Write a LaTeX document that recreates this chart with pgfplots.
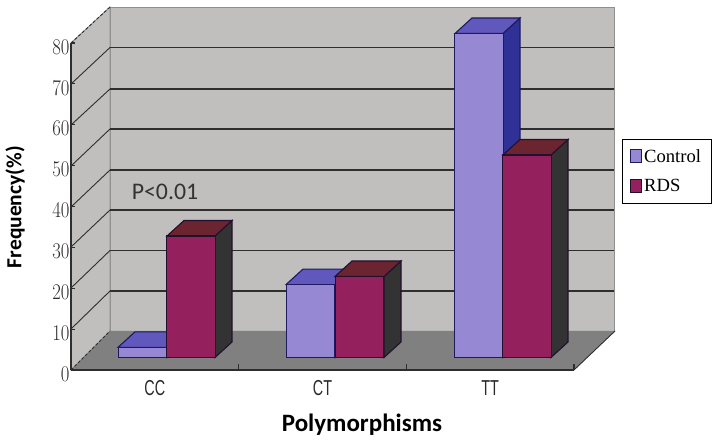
\documentclass[border=0pt]{standalone}
\usepackage{fontspec}
\setmainfont{Carlito}
\newfontfamily\tickfont{Liberation Sans}
\newfontfamily\legfont{Liberation Serif}
\usepackage{pgfplots}
\pgfplotsset{compat=1.18}
\definecolor{wall}{HTML}{C0BFBD}
\definecolor{floorc}{HTML}{808080}
\definecolor{gridc}{HTML}{2E2E2E}
\definecolor{wedge}{HTML}{8E8E8E}
\definecolor{ctrlF}{HTML}{9688D2}
\definecolor{ctrlT}{HTML}{6058BC}
\definecolor{ctrlS}{HTML}{2F3196}
\definecolor{ctrlE}{HTML}{1E1A5E}
\definecolor{rdsF}{HTML}{94205E}
\definecolor{rdsT}{HTML}{6B2530}
\definecolor{rdsS}{HTML}{333333}
\definecolor{rdsE}{HTML}{22102E}
\newcommand{\ticktext}[2][.9]{\scalebox{#1}[1.08]{\fontsize{20}{20}\selectfont\tickfont\textcolor[HTML]{2A2A2A}{#2}}}
\begin{document}
\begin{tikzpicture}
\useasboundingbox (0pt,0pt) rectangle (720pt,441pt);
% canvas: walls, floor and gridlines, in picture pixels
\begin{axis}[at={(0pt,0pt)},anchor=south west,width=720pt,height=441pt,scale only axis,
  xmin=0,xmax=720,ymin=0,ymax=441,axis lines=none,clip=false]
\addplot[fill=wall,draw=wedge,line width=.8pt] coordinates {(110,110)(614,110)(614,434)(110,434)} --cycle;
\addplot[fill=wall,draw=wedge,line width=.8pt] coordinates {(71,71)(110,110)(110,434)(71,398)} --cycle;
\addplot[fill=floorc,draw=none] coordinates {(71,71)(110,110)(615,110)(574,71)} --cycle;
\addplot[gridc,line width=1.3pt] coordinates {(110,150)(614,150)};
\addplot[gridc,line width=1.3pt] coordinates {(110,190.5)(614,190.5)};
\addplot[gridc,line width=1.3pt] coordinates {(110,231)(614,231)};
\addplot[gridc,line width=1.3pt] coordinates {(110,271)(614,271)};
\addplot[gridc,line width=1.3pt] coordinates {(110,312)(614,312)};
\addplot[gridc,line width=1.3pt] coordinates {(110,352)(614,352)};
\addplot[gridc,line width=1.3pt] coordinates {(110,393.5)(614,393.5)};
\addplot[gridc,line width=.9pt] coordinates {(71,112)(110,150)};
\addplot[gridc,line width=.9pt] coordinates {(71,153)(110,190.5)};
\addplot[gridc,line width=.9pt] coordinates {(71,194)(110,231)};
\addplot[gridc,line width=.9pt] coordinates {(71,234)(110,271)};
\addplot[gridc,line width=.9pt] coordinates {(71,275)(110,312)};
\addplot[gridc,line width=.9pt] coordinates {(71,316)(110,352)};
\addplot[gridc,line width=.9pt] coordinates {(71,357)(110,393.5)};
\addplot[gridc,line width=.9pt,densely dashed] coordinates {(71,398)(110,434)};
\addplot[gridc,line width=.9pt,densely dashed] coordinates {(71,71)(110,110)};
\addplot[gridc,line width=.9pt] coordinates {(574,71)(615,110)};
\end{axis}
% frame axis with the ticks and the labels
\begin{axis}[at={(71pt,71pt)},anchor=south west,width=503pt,height=327pt,scale only axis,
  xmin=0,xmax=3,ymin=0,ymax=80,axis lines=left,tick align=inside,
  axis line style={-,draw=gridc,line width=1.3pt},
  xtick={0.5,1.5,2.5},
  xticklabels={\ticktext[.72]{CC},\ticktext[.72]{CT},\ticktext[.72]{TT}},
  major x tick style={draw=none},
  minor xtick={1,2,3},minor tick length=6pt,
  minor x tick style={draw=gridc,line width=1.1pt},
  ytick={0,10,...,80},
  major tick length=4pt,
  y tick style={draw=gridc,line width=1.1pt},
  yticklabel={\ticktext{\pgfmathprintnumber{\tick}}},
  xticklabel style={yshift=-7pt},
  yticklabel style={yshift=-4pt,xshift=2pt},
  xlabel={\fontsize{25}{25}\selectfont\bfseries Polymorphisms},
  ylabel={\fontsize{21.5}{21.5}\selectfont\bfseries Frequency(\%)},
  xlabel style={at={(axis description cs:.5785,-.168)},anchor=center},
  ylabel style={at={(axis description cs:-.111,.498)},anchor=center},
  clip=false]
\end{axis}
% data axis: bars stand on the floor, in the middle of its depth
\begin{axis}[at={(0pt,83.5pt)},anchor=south west,width=720pt,height=357.5pt,scale only axis,
  xmin=0,xmax=720,ymin=0,ymax=88.27,axis lines=none,clip=false,
  legend cell align=left,
  legend image code/.code={\draw[#1] (0pt,-6pt) rectangle (11pt,7pt);},
  legend style={at={(621.7/720,.612)},anchor=north west,draw=black,line width=1pt,
    font=\fontsize{18.6}{18.6}\selectfont\legfont,inner xsep=8pt,inner ysep=8pt,row sep=12pt,
    /tikz/every even column/.append style={column sep=0pt}}]
\addlegendimage{fill=ctrlF,draw=ctrlE,line width=1pt}
\addlegendentry{Control}
\addlegendimage{fill=rdsF,draw=rdsE,line width=1pt}
\addlegendentry{RDS}
% Control
\addplot[forget plot,fill=ctrlS,draw=ctrlE,line width=1.1pt] coordinates {(167,0)(184,3.83)(184,6.33)(167,2.5)} --cycle;
\addplot[forget plot,fill=ctrlT,draw=ctrlE,line width=1.1pt] coordinates {(118,2.5)(167,2.5)(184,6.33)(135,6.33)} --cycle;
\addplot[forget plot,fill=ctrlS,draw=ctrlE,line width=1.1pt] coordinates {(335,0)(352,3.83)(352,21.83)(335,18)} --cycle;
\addplot[forget plot,fill=ctrlT,draw=ctrlE,line width=1.1pt] coordinates {(286,18)(335,18)(352,21.83)(303,21.83)} --cycle;
\addplot[forget plot,fill=ctrlS,draw=ctrlE,line width=1.1pt] coordinates {(503,0)(520,3.83)(520,83.83)(503,80)} --cycle;
\addplot[forget plot,fill=ctrlT,draw=ctrlE,line width=1.1pt] coordinates {(455,80)(503,80)(520,83.83)(472,83.83)} --cycle;
\addplot[forget plot,ybar,bar width=48.5,bar shift=0pt,fill=ctrlF,draw=ctrlE,line width=1.1pt]
  coordinates {(142.5,2.5)(310.5,18)(479,80)};
% RDS
\addplot[forget plot,fill=rdsS,draw=rdsE,line width=1.1pt] coordinates {(215,0)(232,3.83)(232,33.83)(215,30)} --cycle;
\addplot[forget plot,fill=rdsT,draw=rdsE,line width=1.1pt] coordinates {(167,30)(215,30)(232,33.83)(184,33.83)} --cycle;
\addplot[forget plot,fill=rdsS,draw=rdsE,line width=1.1pt] coordinates {(384,0)(401,3.83)(401,23.83)(384,20)} --cycle;
\addplot[forget plot,fill=rdsT,draw=rdsE,line width=1.1pt] coordinates {(335,20)(384,20)(401,23.83)(352,23.83)} --cycle;
\addplot[forget plot,fill=rdsS,draw=rdsE,line width=1.1pt] coordinates {(551,0)(568,3.83)(568,53.83)(551,50)} --cycle;
\addplot[forget plot,fill=rdsT,draw=rdsE,line width=1.1pt] coordinates {(503,50)(551,50)(568,53.83)(520,53.83)} --cycle;
\addplot[forget plot,ybar,bar width=48.5,bar shift=0pt,fill=rdsF,draw=rdsE,line width=1.1pt]
  coordinates {(191,30)(359.5,20)(527,50)};
\node[anchor=center,text=black!80,font=\fontsize{23.8}{23.8}\selectfont] at (axis cs:165,41) {P<0.01};
\end{axis}
\end{tikzpicture}
\end{document}
